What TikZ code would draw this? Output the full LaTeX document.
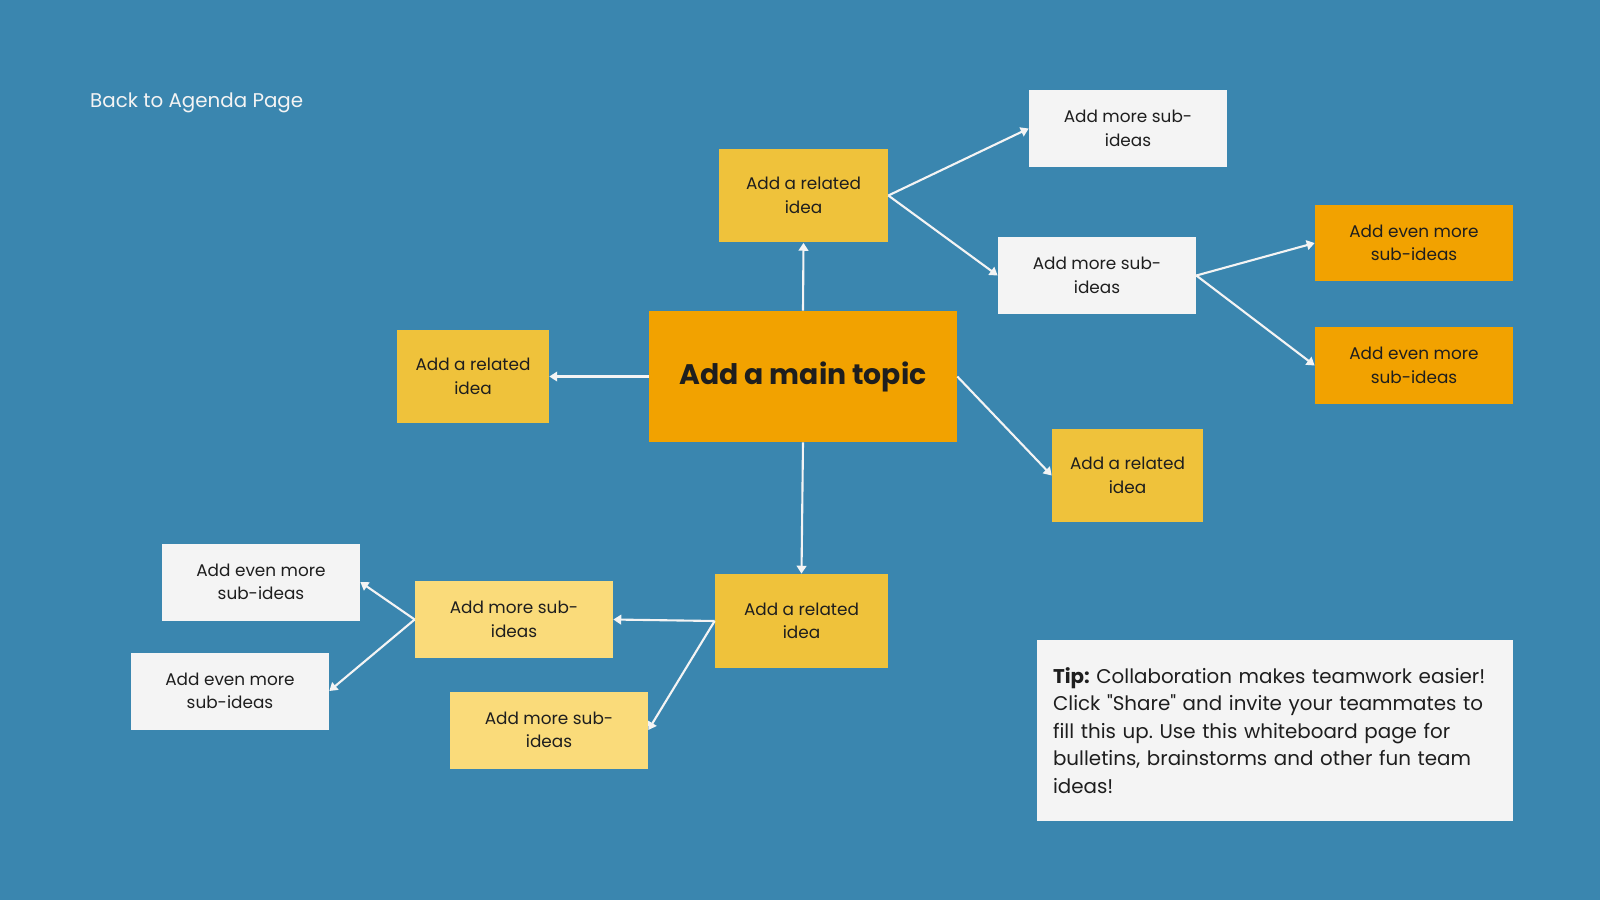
\documentclass[tikz,border=0pt]{standalone}
\usepackage{fontspec}
\setmainfont{Poppins}[Ligatures=TeXOff]
\frenchspacing
\usetikzlibrary{arrows.meta}
\definecolor{boardblue}{HTML}{3A86AF}
\definecolor{topicorange}{HTML}{F2A200}
\definecolor{ideayellow}{HTML}{EFC23B}
\definecolor{subyellow}{HTML}{FADB7A}
\definecolor{notewhite}{HTML}{F4F4F4}
\definecolor{inkdark}{HTML}{1E1E1E}
\begin{document}
\begin{tikzpicture}[x=0.02cm,y=-0.02cm,line join=round,>={Triangle[width=5.5pt,length=4.5pt]},
	box/.style={text=inkdark,font=\fontsize{9.6}{13.3}\selectfont,align=center,inner sep=0pt},
	topic/.style={box,fill=topicorange,minimum width=6.16cm,minimum height=2.62cm,font=\bfseries\fontsize{16.1}{20}\selectfont},
	related/.style={box,fill=ideayellow,minimum width=#1,minimum height=1.88cm},
	related/.default=3.4cm,
	subidea/.style={box,fill=#1,minimum width=3.96cm,minimum height=1.54cm},
	link/.style={->,draw=notewhite,line width=1.2pt}]
	\fill[boardblue] (0,0) rectangle (1600,900);
	\useasboundingbox (0,0) rectangle (1600,900);
	\node[anchor=west,text=notewhite,font=\fontsize{11.3}{14}\selectfont] (back) at (84,103) {Back to Agenda Page};
	% centre
	\node[topic] (main) at (803,376.5) {Add a main topic};
	% related ideas
	\node[related=3.38cm] (rtop) at (803.5,195.5) {Add a related\\idea};
	\node[related=3.04cm] (rleft) at (473,376.5) {Add a related\\idea};
	\node[related=3.02cm] (rright) at (1127.5,475.5) {Add a related\\idea};
	\node[related=3.46cm] (rbot) at (801.5,621) {Add a related\\idea};
	% sub-ideas
	\node[subidea=notewhite] (stop) at (1128,128.5) {Add more sub-\\ideas};
	\node[subidea=notewhite] (smid) at (1097,275.5) {Add more sub-\\ideas};
	\node[subidea=topicorange] (eone) at (1414,243) {Add even more\\sub-ideas};
	\node[subidea=topicorange] (etwo) at (1414,365.5) {Add even more\\sub-ideas};
	\node[subidea=subyellow] (sbone) at (514,619.5) {Add more sub-\\ideas};
	\node[subidea=subyellow] (sbtwo) at (549,730) {Add more sub-\\ideas};
	\node[subidea=notewhite] (ebone) at (261,582) {Add even more\\sub-ideas};
	\node[subidea=notewhite] (ebtwo) at (230,691) {Add even more\\sub-ideas};
	% tip
	\node[fill=notewhite,text=inkdark,minimum width=9.52cm,minimum height=3.62cm,text width=8.88cm,inner xsep=0.32cm,align=left,font=\fontsize{11.3}{15.6}\selectfont] (tip) at (1275,730.5)
		{\textbf{Tip:} Collaboration makes teamwork easier!\\Click "Share" and invite your teammates to\\fill this up. Use this whiteboard page for\\bulletins, brainstorms and other fun team\\ideas!};
	% connectors
	\draw[link] (main.north)--(rtop.south);
	\draw[link] (main.west)--(rleft.east);
	\draw[link] (main.east)--(rright.west);
	\draw[link] (main.south)--(rbot.north);
	\foreach \t in {stop,smid}
	\draw[link] (rtop.east)--(\t.west);
	\foreach \t in {eone,etwo}
	\draw[link] (smid.east)--(\t.west);
	\foreach \t in {sbone,sbtwo}
	\draw[link] (rbot.west)--(\t.east);
	\foreach \t in {ebone,ebtwo}
	\draw[link] (sbone.west)--(\t.east);
\end{tikzpicture}
\end{document}
